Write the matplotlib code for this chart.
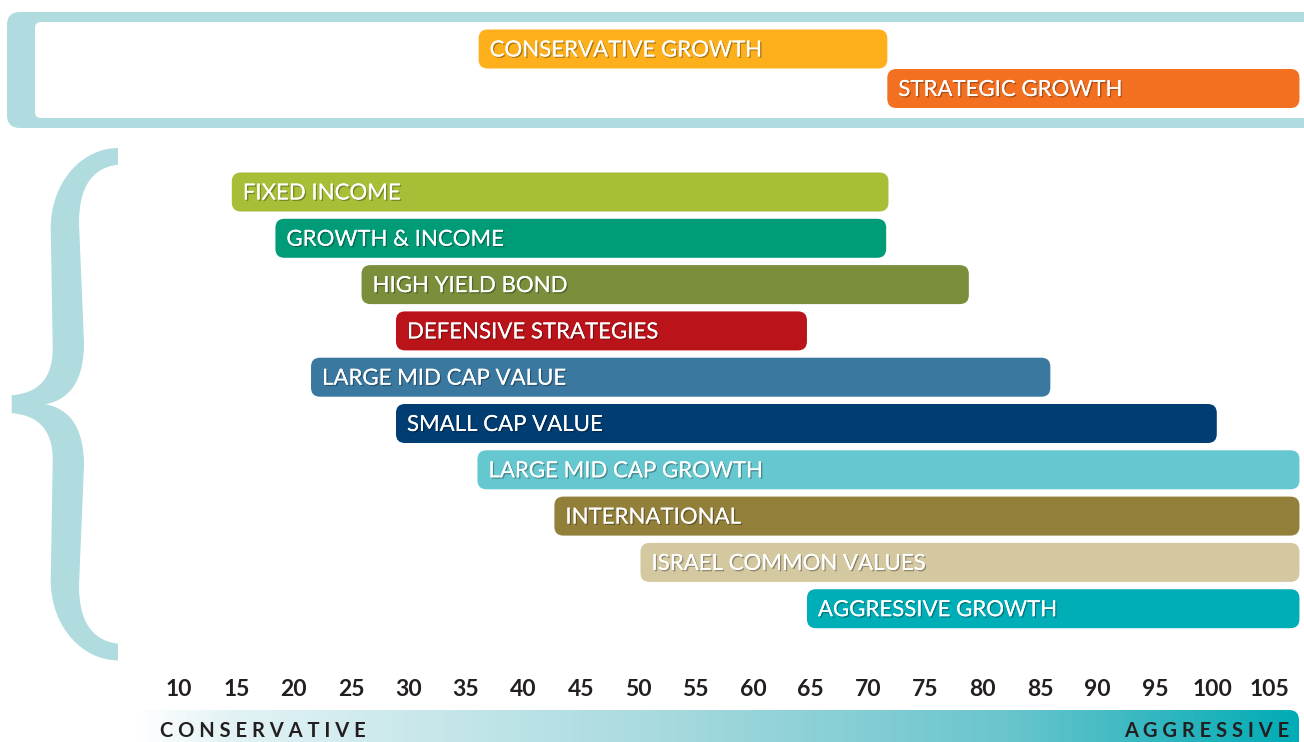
import matplotlib
matplotlib.use("Agg")
import matplotlib.pyplot as plt
import numpy as np
from matplotlib.patches import FancyBboxPatch, PathPatch
from matplotlib.path import Path
from matplotlib.colors import LinearSegmentedColormap
import matplotlib.patheffects as pe

# ---------------- data ----------------
top_labels = ["CONSERVATIVE GROWTH", "STRATEGIC GROWTH"]
top_start = [36.1, 71.7]
top_end = [71.7, 107.6]
top_colors = ["#FDB01B", "#F37021"]

labels = ["FIXED INCOME", "GROWTH & INCOME", "HIGH YIELD BOND", "DEFENSIVE STRATEGIES",
          "LARGE MID CAP VALUE", "SMALL CAP VALUE", "LARGE MID CAP GROWTH",
          "INTERNATIONAL", "ISRAEL COMMON VALUES", "AGGRESSIVE GROWTH"]
start = [14.6, 18.4, 25.9, 28.9, 21.5, 28.9, 36.0, 42.7, 50.2, 64.7]
end = [71.8, 71.6, 78.8, 64.7, 85.9, 100.4, 107.6, 107.6, 107.6, 107.6]
colors = ["#A6BF37", "#009B77", "#7A8E3B", "#BA141A", "#3A789F", "#003D73",
          "#65C8D0", "#917F3A", "#D3C8A0", "#00AEB8"]

ticks = list(range(10, 106, 5))
scale_left = "CONSERVATIVE"
scale_right = "AGGRESSIVE"

# ---------------- figure ----------------
W, H = 1304, 742
fig = plt.figure(figsize=(W / 100, H / 100), dpi=100)
plt.rcParams['font.family'] = ['Lato', 'DejaVu Sans']

FRAME = "#B0DCE0"

# background axes in pixel coordinates
bg = fig.add_axes([0, 0, 1, 1])
bg.set_xlim(0, W)
bg.set_ylim(H, 0)
bg.axis("off")

# top frame
bg.add_patch(FancyBboxPatch((7, 12), 1330, 116, boxstyle="round,pad=0,rounding_size=13",
                            fc=FRAME, ec="none", zorder=1))
bg.add_patch(FancyBboxPatch((35, 22), 1330, 96, boxstyle="round,pad=0,rounding_size=6",
                            fc="white", ec="none", zorder=2))

# brace
mid = 404.2
def m(y):
    return 2 * mid - y
verts = [
    (118, 148),
    (83.3, 148), (51.7, 180), (50.7, 226.7),
    (52.7, 346.7),
    (53.3, 380), (36.7, 393.3), (11.7, 395.2),
    (11.7, m(395.2)),
    (36.7, m(393.3)), (53.3, m(380)), (52.7, m(346.7)),
    (50.7, m(226.7)),
    (51.7, m(180)), (83.3, m(148)), (118, m(148)),
    (118, m(164.7)),
    (90, m(168)), (79, m(190)), (79, m(223)),
    (84, m(343)),
    (84, m(380)), (70, m(400)), (45, mid),
    (70, 400), (84, 380), (84, 343),
    (79, 223),
    (79, 190), (90, 168), (118, 164.7),
    (118, 148),
]
codes = [Path.MOVETO,
         Path.CURVE4, Path.CURVE4, Path.CURVE4,
         Path.LINETO,
         Path.CURVE4, Path.CURVE4, Path.CURVE4,
         Path.LINETO,
         Path.CURVE4, Path.CURVE4, Path.CURVE4,
         Path.LINETO,
         Path.CURVE4, Path.CURVE4, Path.CURVE4,
         Path.LINETO,
         Path.CURVE4, Path.CURVE4, Path.CURVE4,
         Path.LINETO,
         Path.CURVE4, Path.CURVE4, Path.CURVE4,
         Path.CURVE4, Path.CURVE4, Path.CURVE4,
         Path.LINETO,
         Path.CURVE4, Path.CURVE4, Path.CURVE4,
         Path.CLOSEPOLY]
bg.add_patch(PathPatch(Path(verts, codes), fc=FRAME, ec="none", zorder=1))

# gradient scale bar
cmap = LinearSegmentedColormap.from_list("g", [
    (0.0, "#FFFFFF"), (0.08, "#E3F3F5"), (0.45, "#A8DADF"),
    (0.75, "#6AC5CD"), (0.88, "#33B7C0"), (1.0, "#00ACB6")])
grad = np.linspace(0, 1, 512).reshape(1, -1)
im = bg.imshow(grad, cmap=cmap, aspect="auto", extent=(135, 1299, 745, 710), zorder=1)
clip = FancyBboxPatch((120, 710), 1179, 60, boxstyle="round,pad=0,rounding_size=10",
                      fc="none", ec="none", transform=bg.transData)
bg.add_patch(clip)
im.set_clip_path(clip)
bg.text(160, 731, " ".join(scale_left), ha="left", va="center", fontsize=14.5,
        fontweight="bold", color="#231F20", zorder=3)
bg.text(1289, 731, " ".join(scale_right), ha="right", va="center", fontsize=14.5,
        fontweight="bold", color="#231F20", zorder=3)

# ---------------- main axes (x in data units, y in pixel rows) ----------------
px_per_unit = 11.48
x0 = 10 - 179 / px_per_unit
x1 = 10 + (W - 179) / px_per_unit
ybot = 668
ax = fig.add_axes([0, (H - ybot) / H, 1, ybot / H])
ax.set_xlim(x0, x1)
ax.set_ylim(ybot, 0)
ax.patch.set_alpha(0)
for s in ax.spines.values():
    s.set_visible(False)
ax.set_yticks([])
ax.set_xticks(ticks)
ax.set_xticklabels([str(t) for t in ticks])
ax.tick_params(axis="x", length=0, pad=8, labelsize=16.5, labelcolor="#231F20")
for lab in ax.get_xticklabels():
    lab.set_fontweight("bold")

bar_h = 39
radius_px = 9
shadow = [pe.withSimplePatchShadow(offset=(1.0, -1.0), shadow_rgbFace="black", alpha=0.3),
          pe.Normal()]

def draw_bar(x_start, x_end, yc, color, text):
    r = radius_px / px_per_unit
    p = FancyBboxPatch((x_start, yc - bar_h / 2), x_end - x_start, bar_h,
                       boxstyle=f"round,pad=0,rounding_size={r}",
                       mutation_aspect=px_per_unit, fc=color, ec="none", zorder=3)
    ax.add_patch(p)
    ax.text(x_start + 11 / px_per_unit, yc + 1.5, text, ha="left", va="center",
            fontsize=16, color="white", zorder=4, path_effects=shadow)

top_y0, top_step = 49, 39.5
for i, (a, b, c, t) in enumerate(zip(top_start, top_end, top_colors, top_labels)):
    draw_bar(a, b, top_y0 + i * top_step, c, t)

main_y0, main_step = 192, 46.3
for i, (a, b, c, t) in enumerate(zip(start, end, colors, labels)):
    draw_bar(a, b, main_y0 + i * main_step, c, t)

fig.savefig("out.png", dpi=100)
